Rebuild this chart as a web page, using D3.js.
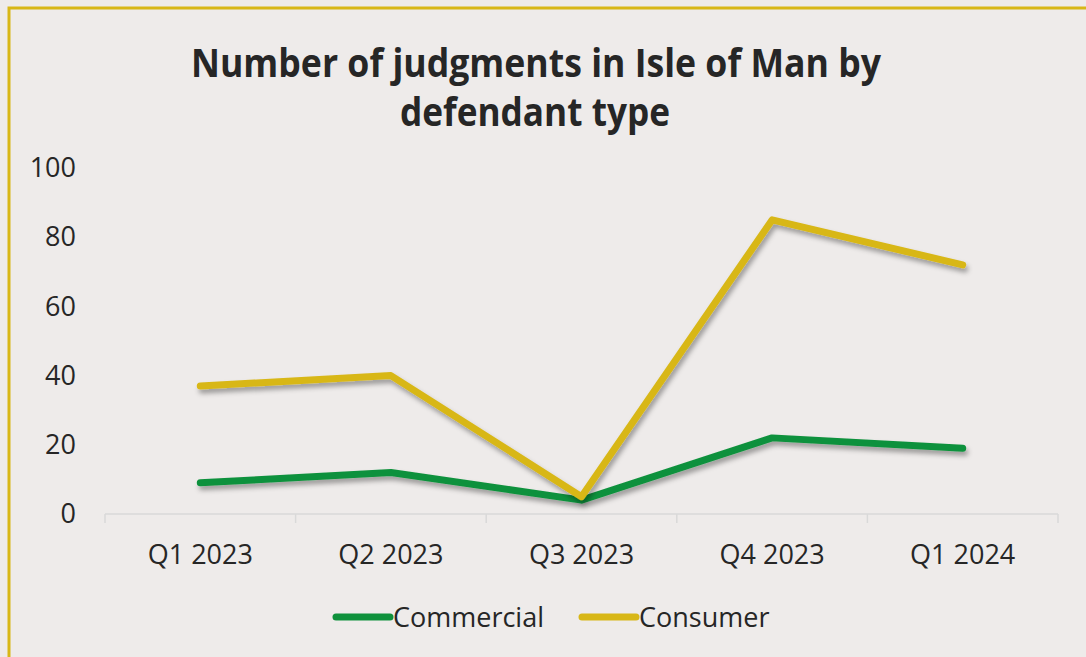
<!DOCTYPE html>
<html>
<head>
<meta charset="utf-8">
<script src="https://cdn.jsdelivr.net/npm/d3@7"></script>
<style>
  body { margin: 0; background: #eeebea; }
  svg { display: block; }
</style>
</head>
<body>
<script>
// data
const quarters = ["Q1 2023", "Q2 2023", "Q3 2023", "Q4 2023", "Q1 2024"];
const commercial = [9, 12, 4, 22, 19];
const consumer = [37, 40, 5, 85, 72];
const yTicks = [0, 20, 40, 60, 80, 100];
const seriesNames = ["Commercial", "Consumer"];
const seriesColors = ["#0f913c", "#d8b717"];

let width = 1086, height = 657;
let margin = {top: 168, right: 28, bottom: 143, left: 105};

let svg = d3.select("body").append("svg")
            .attr("width", width)
            .attr("height", height);

svg.append("rect").attr("width", width).attr("height", height).attr("fill", "#eeebea");
// yellow frame (right and bottom edges fall outside the picture)
svg.append("rect")
   .attr("x", 9).attr("y", 8)
   .attr("width", width + 20).attr("height", height + 20)
   .attr("fill", "none").attr("stroke", "#d8b717").attr("stroke-width", 3);

// drop shadow for lines
let defs = svg.append("defs");
let f = defs.append("filter").attr("id", "shadow")
            .attr("x", "-10%").attr("y", "-10%").attr("width", "120%").attr("height", "130%");
f.append("feDropShadow").attr("dx", 2).attr("dy", 4).attr("stdDeviation", 2.5)
 .attr("flood-color", "#000").attr("flood-opacity", 0.35);

// title
let title = svg.append("text")
   .attr("text-anchor", "middle")
   .style("font-family", "'Open Sans', sans-serif")
   .style("font-weight", "bold")
   .style("font-size", "39px")
   .attr("fill", "#262626");
title.append("tspan").attr("x", 536).attr("y", 77)
     .attr("textLength", 690).attr("lengthAdjust", "spacingAndGlyphs")
     .text("Number of judgments in Isle of Man by");
title.append("tspan").attr("x", 535).attr("y", 126)
     .attr("textLength", 270).attr("lengthAdjust", "spacingAndGlyphs")
     .text("defendant type");

// scales
let x = d3.scaleBand().domain(quarters)
          .range([margin.left, width - margin.right]).padding(0);
let y = d3.scaleLinear().domain([0, 100])
          .range([514, margin.top]);

// x axis line with category boundary ticks
let xAxis = svg.append("g")
   .attr("transform", "translate(0,514)")
   .call(d3.axisBottom(x).tickSize(0).tickPadding(31));
xAxis.select(".domain").attr("stroke", "#d9d9d9").attr("stroke-width", 1.5)
     .attr("d", `M${margin.left},0H${width - margin.right}`);
xAxis.selectAll("text")
     .style("font-family", "'Open Sans', sans-serif")
     .style("font-size", "27px")
     .attr("fill", "#262626");
let bounds = quarters.map(q => x(q)).concat([x.range()[1]]);
xAxis.selectAll(".bound").data(bounds).enter().append("line")
     .attr("x1", d => d).attr("x2", d => d)
     .attr("y1", 0).attr("y2", 9)
     .attr("stroke", "#d9d9d9").attr("stroke-width", 1.5);

// y axis labels only
let yAxis = svg.append("g")
   .attr("transform", "translate(76,0)")
   .call(d3.axisLeft(y).tickValues(yTicks).tickSize(0).tickPadding(0));
yAxis.select(".domain").remove();
yAxis.selectAll("text")
     .style("font-family", "'Open Sans', sans-serif")
     .style("font-size", "27px")
     .attr("fill", "#262626");

// lines
let line = d3.line()
   .x((d, i) => x(quarters[i]) + x.bandwidth() / 2)
   .y(d => y(d));

[commercial, consumer].forEach(function(s, i) {
  svg.append("path")
     .datum(s)
     .attr("d", line)
     .attr("fill", "none")
     .attr("stroke", seriesColors[i])
     .attr("stroke-width", 7)
     .attr("stroke-linecap", "round")
     .attr("stroke-linejoin", "round")
     .attr("filter", "url(#shadow)");
});

// legend
let legendX = [336, 582];
seriesNames.forEach(function(n, i) {
  let g = svg.append("g").attr("transform", `translate(${legendX[i]},617)`);
  g.append("line").attr("x1", 0).attr("x2", 54).attr("y1", 0).attr("y2", 0)
   .attr("stroke", seriesColors[i]).attr("stroke-width", 7).attr("stroke-linecap", "round");
  g.append("text").attr("x", 57).attr("y", 10)
   .style("font-family", "'Open Sans', sans-serif")
   .style("font-size", "27px")
   .attr("fill", "#262626")
   .text(n);
});
</script>
</body>
</html>
